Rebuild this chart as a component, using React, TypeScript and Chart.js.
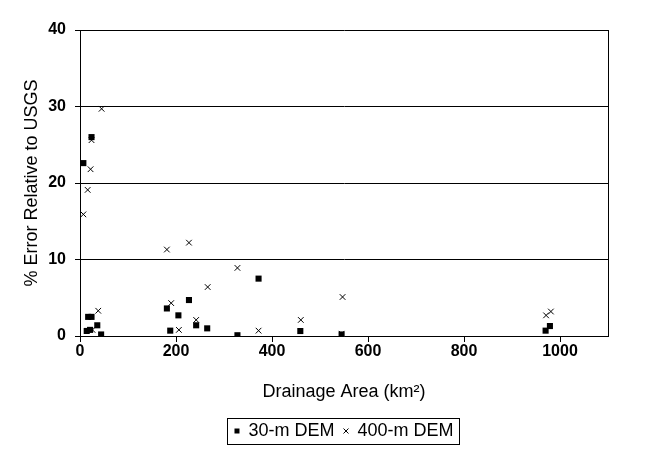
import React, { useEffect, useRef } from "react";
import { Chart, registerables } from "chart.js";

Chart.register(...registerables);

const dem30X = [7, 24, 17, 24, 36, 14, 21, 44, 181, 188, 205, 227, 242, 265, 328, 372, 459, 545, 970, 979];
const dem30Y = [22.6, 26.0, 2.5, 2.5, 1.4, 0.66, 0.8, 0.2, 3.6, 0.7, 2.7, 4.7, 1.4, 1.0, 0.1, 7.5, 0.65, 0.2, 0.7, 1.3];
const dem400X = [45, 24, 22, 16, 7, 38, 26, 181, 227, 190, 206, 242, 266, 328, 372, 460, 547, 545, 971, 981];
const dem400Y = [29.7, 25.6, 21.8, 19.1, 15.9, 3.3, 0.8, 11.3, 12.2, 4.3, 0.8, 2.1, 6.4, 8.9, 0.7, 2.1, 5.1, 0.3, 2.7, 3.2];
const seriesNames = ["30-m DEM", "400-m DEM"];
const xTitle = "Drainage Area (km²)";
const yTitle = "% Error Relative to USGS";

const FONT = "'Liberation Sans', Arial, sans-serif";

const framePlugin = {
  id: "frame",
  afterDraw(chart: any) {
    const { ctx, chartArea } = chart;
    ctx.save();
    ctx.strokeStyle = "#000";
    ctx.lineWidth = 1;
    const rx = Math.round(chartArea.right) + 0.5;
    ctx.beginPath();
    ctx.moveTo(rx, Math.round(chartArea.top));
    ctx.lineTo(rx, Math.round(chartArea.bottom));
    ctx.stroke();
    const lg = chart.legend;
    if (lg && lg.legendHitBoxes && lg.legendHitBoxes.length) {
      let l = Infinity, t = Infinity, r = -Infinity, b = -Infinity;
      for (const h of lg.legendHitBoxes) {
        l = Math.min(l, h.left);
        t = Math.min(t, h.top);
        r = Math.max(r, h.left + h.width);
        b = Math.max(b, h.top + h.height);
      }
      const cy = (t + b) / 2;
      ctx.strokeRect(Math.round(l - 7) + 0.5, Math.round(cy - 13) + 0.5, Math.round(r - l + 13), 26);
    }
    ctx.restore();
  },
};

export default function App() {
  const ref = useRef<HTMLCanvasElement | null>(null);
  useEffect(() => {
    if (!ref.current) return;
    Chart.defaults.color = "#000";
    const chart = new Chart(ref.current, {
      type: "scatter",
      data: {
        datasets: [
          {
            label: seriesNames[0],
            data: dem30X.map((x, i) => ({ x, y: dem30Y[i] })),
            pointStyle: "rect",
            pointRadius: 4.3,
            backgroundColor: "#000",
            borderColor: "#000",
            borderWidth: 0,
          },
          {
            label: seriesNames[1],
            data: dem400X.map((x, i) => ({ x, y: dem400Y[i] })),
            pointStyle: "crossRot",
            pointRadius: 4,
            backgroundColor: "#000",
            borderColor: "#000",
            borderWidth: 1,
          },
        ],
      },
      options: {
        responsive: false,
        animation: false,
        devicePixelRatio: 1,
        layout: { padding: { top: 30, right: 38, left: 21, bottom: 5 } },
        plugins: {
          tooltip: { enabled: false },
          legend: {
            position: "bottom",
            fullSize: false,
            labels: {
              usePointStyle: true,
              boxWidth: 5,
              boxHeight: 5,
              padding: 9,
              color: "#000",
              font: { family: FONT, size: 18 },
            },
          },
        },
        scales: {
          x: {
            type: "linear",
            min: 0,
            max: 1100,
            afterFit: (s: any) => {
              s.height = 77;
            },
            ticks: {
              stepSize: 200,
              includeBounds: false,
              padding: 0,
              font: { family: FONT, size: 16, weight: "bold" },
              color: "#000",
              maxRotation: 0,
              callback: (v: any) => String(v),
            },
            grid: { drawOnChartArea: false, drawTicks: true, tickLength: 6, color: "#000" },
            border: { display: true, color: "#000", width: 1 },
            title: {
              display: true,
              text: xTitle,
              font: { family: FONT, size: 18 },
              color: "#000",
              padding: { top: 0, bottom: 10 },
            },
          },
          y: {
            min: 0,
            max: 40,
            afterFit: (s: any) => {
              s.width = 59;
            },
            ticks: {
              stepSize: 10,
              padding: 9,
              font: { family: FONT, size: 16, weight: "bold" },
              color: "#000",
              callback: (v: any) => String(v),
            },
            grid: { drawOnChartArea: true, drawTicks: true, tickLength: 5, color: "#000" },
            border: { display: true, color: "#000", width: 1 },
            title: {
              display: true,
              text: yTitle,
              font: { family: FONT, size: 18 },
              color: "#000",
              padding: 0,
            },
          },
        },
      },
      plugins: [framePlugin],
    });
    return () => chart.destroy();
  }, []);
  return (
    <div style={{ position: "absolute", left: 0, top: 0, width: 646, height: 455, background: "#fff" }}>
      <canvas ref={ref} width={646} height={455} />
    </div>
  );
}
